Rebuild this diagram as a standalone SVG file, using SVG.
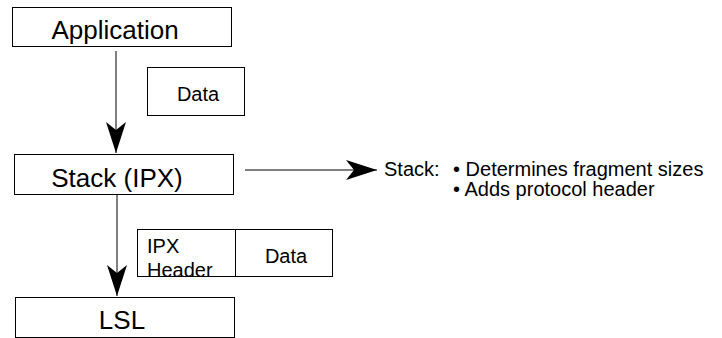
<svg xmlns="http://www.w3.org/2000/svg" width="722" height="338" viewBox="0 0 722 338">
<style>
.box{fill:#fff;stroke:#000;stroke-width:1}
.t{font-family:"Liberation Sans",Arial,sans-serif;fill:#000}
.big{font-size:26px}
.sm{font-size:20px}
.line{stroke:#000;stroke-width:1;fill:none}
</style>
<defs>
<marker id="ah" markerUnits="userSpaceOnUse" markerWidth="32" markerHeight="22" refX="31" refY="10" orient="auto">
<path d="M0,0 L31,10 L0,20 L8,10 Z" fill="#000"/>
</marker>
</defs>
<rect width="722" height="338" fill="#fff"/>
<g id="connectors">
<line class="line" x1="116" y1="51" x2="116" y2="153" marker-end="url(#ah)"/>
<line class="line" x1="245" y1="170" x2="377" y2="170" marker-end="url(#ah)"/>
<line class="line" x1="117" y1="195" x2="117" y2="296" marker-end="url(#ah)"/>
</g>
<g id="application">
<rect class="box" x="12.5" y="7.5" width="219" height="39"/>
<text class="t big" x="115" y="39" text-anchor="middle">Application</text>
</g>
<g id="data1">
<rect class="box" x="147.5" y="67.5" width="97" height="48"/>
<text class="t sm" x="198" y="101" text-anchor="middle">Data</text>
</g>
<g id="stack">
<rect class="box" x="14.5" y="154.5" width="219" height="40"/>
<text class="t big" x="117" y="187" text-anchor="middle">Stack (IPX)</text>
</g>
<g id="stack-note">
<text class="t sm" x="384" y="176">Stack:</text>
<text class="t sm" x="453" y="176">• Determines fragment sizes</text>
<text class="t sm" x="453" y="196">• Adds protocol header</text>
</g>
<g id="ipx-packet">
<rect class="box" x="137.5" y="229.5" width="98" height="47"/>
<rect class="box" x="235.5" y="229.5" width="97" height="47"/>
<text class="t sm" x="147" y="253">IPX</text>
<text class="t sm" x="147" y="277">Header</text>
<text class="t sm" x="286" y="263" text-anchor="middle">Data</text>
</g>
<g id="lsl">
<rect class="box" x="15.5" y="297.5" width="219" height="40"/>
<text class="t big" x="122" y="329" text-anchor="middle">LSL</text>
</g>
</svg>
